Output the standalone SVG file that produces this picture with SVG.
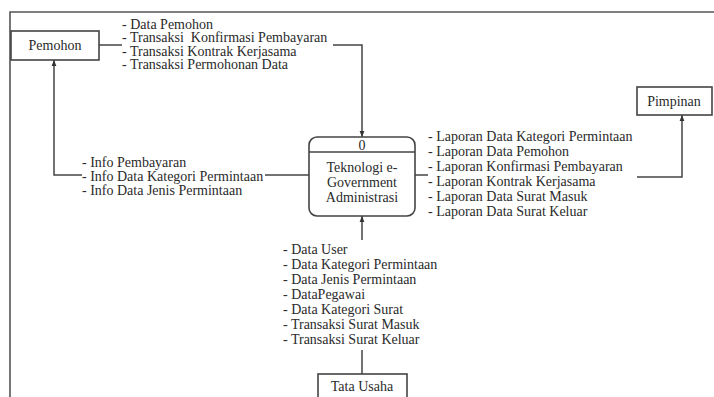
<svg xmlns="http://www.w3.org/2000/svg" width="714" height="397" viewBox="0 0 714 397" font-family="Liberation Serif, DejaVu Serif, serif">
<style>
text{font-size:14px;fill:#2a2a2a}
.c{text-anchor:middle}
.box{fill:#fff;stroke:#444;stroke-width:1.6}
.ln{fill:none;stroke:#444;stroke-width:1.5}
.frame{fill:none;stroke:#555;stroke-width:1.6}
</style>
<defs>
<marker id="ar" viewBox="0 0 10 10" refX="10" refY="5" markerWidth="6" markerHeight="6" orient="auto" markerUnits="userSpaceOnUse">
<path d="M0,1 L10,5 L0,9 z" fill="#333"/>
</marker>
</defs>
<rect width="714" height="397" fill="#fff"/>
<path class="frame" d="M10,397 V12 H714"/>
<g id="connectors">
<path class="ln" d="M99,45 H122"/>
<path class="ln" d="M333,45 H362 V137" marker-end="url(#ar)"/>
<path class="ln" d="M309,175 H265"/>
<path class="ln" d="M82,175 H54 V60" marker-end="url(#ar)"/>
<path class="ln" d="M415,175 H428"/>
<path class="ln" d="M637,177 H682 V115" marker-end="url(#ar)"/>
<path class="ln" d="M362,374 V350"/>
<path class="ln" d="M362,240 V216" marker-end="url(#ar)"/>
</g>
<g id="label-top" font-family="Liberation Serif, serif">
<text x="122" y="28.5">- Data Pemohon</text>
<text x="122" y="42" xml:space="preserve">- Transaksi  Konfirmasi Pembayaran</text>
<text x="122" y="55.5">- Transaksi Kontrak Kerjasama</text>
<text x="122" y="69">- Transaksi Permohonan Data</text>
</g>
<g id="label-left">
<text x="82" y="167">- Info Pembayaran</text>
<text x="82" y="181">- Info Data Kategori Permintaan</text>
<text x="82" y="195">- Info Data Jenis Permintaan</text>
</g>
<g id="label-right">
<text x="428" y="141">- Laporan Data Kategori Permintaan</text>
<text x="428" y="156">- Laporan Data Pemohon</text>
<text x="428" y="171">- Laporan Konfirmasi Pembayaran</text>
<text x="428" y="186">- Laporan Kontrak Kerjasama</text>
<text x="428" y="201">- Laporan Data Surat Masuk</text>
<text x="428" y="216">- Laporan Data Surat Keluar</text>
</g>
<g id="label-bottom">
<text x="283" y="254">- Data User</text>
<text x="283" y="269">- Data Kategori Permintaan</text>
<text x="283" y="284">- Data Jenis Permintaan</text>
<text x="283" y="299">- DataPegawai</text>
<text x="283" y="314">- Data Kategori Surat</text>
<text x="283" y="329">- Transaksi Surat Masuk</text>
<text x="283" y="344">- Transaksi Surat Keluar</text>
</g>
<g id="pemohon">
<rect class="box" x="11" y="31" width="88" height="29"/>
<text class="c" x="55" y="49.5">Pemohon</text>
</g>
<g id="pimpinan">
<rect class="box" x="637" y="87" width="75" height="28"/>
<text class="c" x="674" y="105.5">Pimpinan</text>
</g>
<g id="proses">
<rect class="box" x="309" y="137" width="106" height="79" rx="8"/>
<path class="ln" d="M309,152 H415"/>
<text class="c" x="362" y="149.5">0</text>
<text class="c" x="362" y="172">Teknologi e-</text>
<text class="c" x="362" y="187">Government</text>
<text class="c" x="362" y="202">Administrasi</text>
</g>
<g id="tata-usaha">
<rect class="box" x="318" y="374" width="89" height="40"/>
<text class="c" x="362" y="390.5">Tata Usaha</text>
</g>
</svg>
